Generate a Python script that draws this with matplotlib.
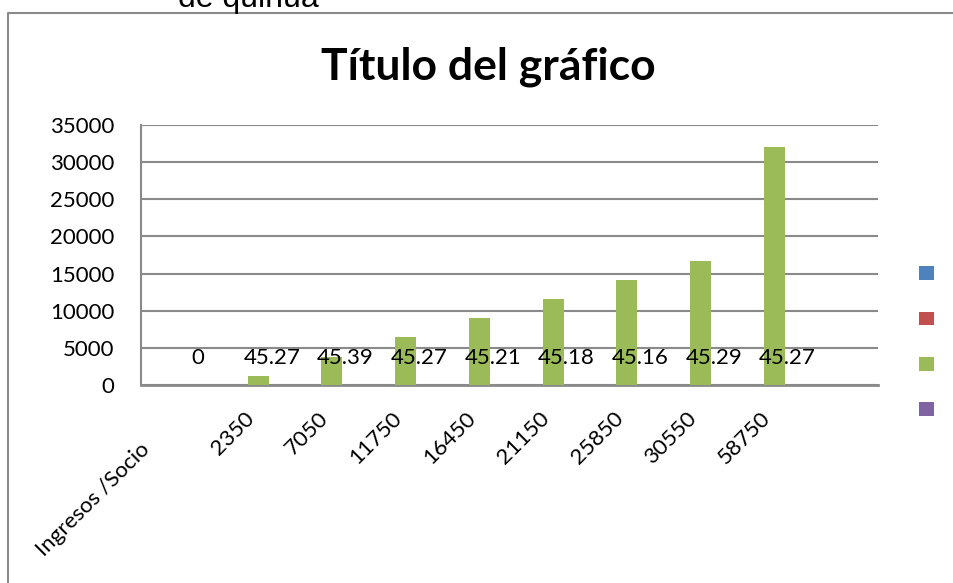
import numpy as np
import matplotlib.pyplot as plt
from matplotlib.patches import Patch
from matplotlib.lines import Line2D
from matplotlib.transforms import ScaledTranslation

# datos
categorias = ["Ingresos /Socio", "2350", "7050", "11750", "16450",
              "21150", "25850", "30550", "58750", ""]
serie1 = [0, 0, 0, 0, 0, 0, 0, 0, 0, 60]
serie2 = [0, 0, 0, 0, 0, 0, 0, 0, 0, 60]
serie3 = [0, 1270, 3830, 6430, 8980, 11560, 14110, 16660, 32070, 0]
serie4 = [0, 45.27, 45.39, 45.27, 45.21, 45.18, 45.16, 45.29, 45.27, 0]
etiquetas4 = ["0", "45.27", "45.39", "45.27", "45.21", "45.18",
              "45.16", "45.29", "45.27", ""]
yticks = [0, 5000, 10000, 15000, 20000, 25000, 30000, 35000]

colores = ["#4F81BD", "#C0504D", "#9BBB59", "#8064A2"]
plt.rcParams['font.family'] = ['Lato', 'DejaVu Sans']

fig = plt.figure(figsize=(9.54, 5.83), dpi=100)
ax = fig.add_axes([141/954, 1 - 385/583, 737/954, 260/583])

x = np.arange(len(categorias))
ancho = 0.285
paso = 0.183
for i, (vals, c) in enumerate(zip([serie1, serie2, serie3, serie4], colores)):
    ax.bar(x + (i - 1.5) * paso, vals, width=ancho, color=c, zorder=3)

# etiquetas de la serie 4 (movidas hacia arriba como en el original)
for xi, t in zip(x, etiquetas4):
    if t:
        ax.text(xi + 1.5 * paso, 3660, t, ha='center', va='center',
                fontsize=16, zorder=4)

ax.set_xlim(-0.5, len(categorias) - 0.5)
ax.set_ylim(0, 35000)
ax.set_yticks(yticks)
ax.set_yticklabels([str(v) for v in yticks])
ax.grid(axis='y', color='#8a8a8a', lw=1.5, zorder=0)
ax.tick_params(axis='y', length=0, pad=19, labelsize=16)
ax.tick_params(axis='x', length=0, pad=22, labelsize=16)
ax.set_xticks(x)
ax.set_xticklabels(categorias, rotation=45, ha='right', va='center',
                   rotation_mode='anchor')
# la primera etiqueta tiene espacios al final en el original
lab0 = ax.get_xticklabels()[0]
lab0.set_transform(lab0.get_transform() + ScaledTranslation(-0.31, -0.31, fig.dpi_scale_trans))

for s in ['top', 'right']:
    ax.spines[s].set_visible(False)
ax.spines['left'].set_color('#8a8a8a')
ax.spines['left'].set_linewidth(1.5)
ax.spines['bottom'].set_color('#8a8a8a')
ax.spines['bottom'].set_linewidth(2)

# leyenda sin nombres
handles = [Patch(facecolor=c) for c in colores]
fig.legend(handles, [" "] * 4, loc='center left',
           bbox_to_anchor=(919/954, 1 - 342/583), frameon=False,
           fontsize=11, handlelength=1, handleheight=1, handletextpad=0,
           labelspacing=1.98, borderpad=0, borderaxespad=0)

# titulo y marco del area del grafico
fig.text(488/954, 1 - 80/583, "Título del gráfico", ha='center', va='baseline',
         fontsize=32, fontweight='bold')
fig.text(178/954, 1 - 7/583, "de quinua", ha='left', va='baseline',
         fontsize=23, family='Liberation Sans')
# marco: solo borde izquierdo y superior quedan dentro de la imagen
fig.add_artist(Line2D([8/954, 8/954, 1.0], [0.0, 1 - 13/583, 1 - 13/583],
                      transform=fig.transFigure, color='#8a8a8a', lw=1.5))

fig.savefig("out.png", dpi=100)
